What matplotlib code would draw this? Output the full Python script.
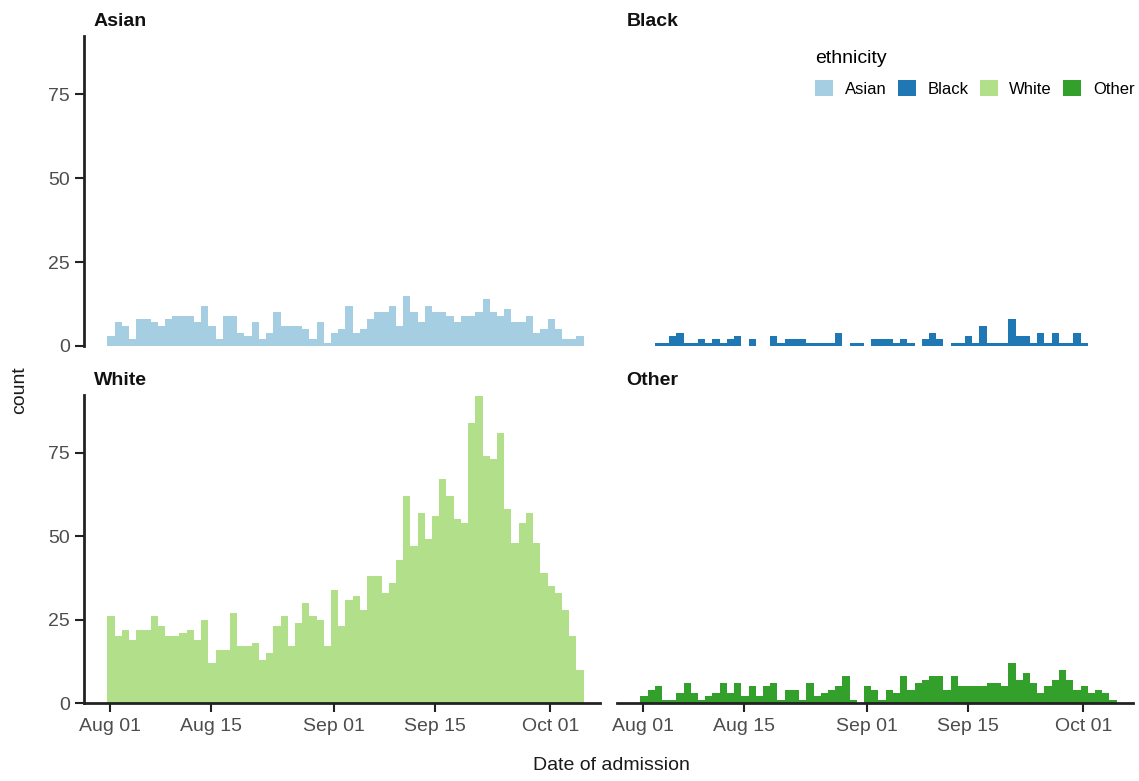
import matplotlib
matplotlib.use('Agg')
import matplotlib.pyplot as plt
import matplotlib.dates as mdates
from matplotlib.patches import Patch
import pandas as pd

plt.rcParams['font.family'] = ['Liberation Sans', 'DejaVu Sans']

# daily admissions by ethnicity, Aug 01 -> Oct 05
dates = pd.date_range('2020-08-01', periods=66, freq='D')

asian = [3, 7, 6, 2, 8, 8, 7, 6, 8, 9, 9, 9, 7, 12, 6, 2, 9, 9, 4, 3,
         7, 2, 4, 10, 6, 6, 6, 5, 2, 7, 1, 4, 5, 12, 4, 5, 8, 10, 10, 12,
         6, 15, 10, 7, 12, 10, 10, 9, 7, 9, 9, 10, 14, 10, 9, 11, 7, 7, 9, 4,
         5, 8, 5, 2, 2, 3]
black = [0, 0, 1, 1, 3, 4, 1, 1, 2, 1, 2, 1, 2, 3, 0, 2, 0, 0, 3, 1,
         2, 2, 2, 1, 1, 1, 1, 4, 0, 1, 1, 0, 2, 2, 2, 1, 2, 1, 0, 2,
         4, 2, 0, 1, 1, 3, 1, 6, 1, 1, 1, 8, 3, 3, 1, 4, 1, 4, 1, 1,
         4, 1, 0, 0, 0, 0]
white = [26, 20, 22, 19, 22, 22, 26, 23, 20, 20, 21, 22, 19, 25, 12, 16, 16, 27, 17, 17,
         18, 13, 15, 23, 26, 17, 24, 30, 26, 25, 17, 34, 23, 31, 32, 28, 38, 38, 33, 36,
         43, 62, 47, 57, 49, 56, 67, 62, 55, 54, 84, 92, 74, 73, 81, 58, 48, 54, 57, 48,
         39, 35, 33, 28, 20, 10]
other = [2, 4, 5, 1, 1, 3, 6, 3, 1, 2, 3, 6, 3, 6, 2, 5, 2, 5, 6, 1,
         4, 4, 1, 6, 2, 3, 4, 5, 8, 1, 0, 5, 4, 1, 4, 3, 8, 4, 6, 7,
         8, 8, 4, 8, 5, 5, 5, 5, 6, 6, 5, 12, 7, 9, 6, 3, 5, 7, 10, 7,
         4, 5, 3, 4, 3, 1]

groups = ['Asian', 'Black', 'White', 'Other']
colors = ['#a6cee3', '#1f78b4', '#b2df8a', '#33a02c']
series = [asian, black, white, other]

xticks = pd.to_datetime(['2020-08-01', '2020-08-15', '2020-09-01', '2020-09-15', '2020-10-01'])
yticks = [0, 25, 50, 75]

W, H = 1139, 781
fig = plt.figure(figsize=(W / 100, H / 100), dpi=100)

# panel boxes in pixels: left, top, right, bottom
boxes = [(84, 36, 600, 346), (617, 36, 1133, 346),
         (84, 395, 600, 703), (617, 395, 1133, 703)]

x0 = mdates.date2num(dates[0])
xl = mdates.date2num(dates) - 0.37
ink = '#222222'

for i in range(4):
    l, t, r, b = boxes[i]
    ax = fig.add_axes([l / W, 1 - b / H, (r - l) / W, (b - t) / H])
    ax.bar(xl, series[i], width=1.0, align='edge', color=colors[i], linewidth=0)
    ax.set_xlim(x0 - 3.6, x0 + 67.9)
    ax.set_ylim(0, 92.3)
    for s in ax.spines.values():
        s.set_visible(False)
        s.set_linewidth(2)
        s.set_color(ink)
    left = i % 2 == 0
    bottom = i >= 2
    ax.spines['left'].set_visible(left)
    ax.spines['bottom'].set_visible(bottom)
    ax.set_yticks(yticks)
    ax.set_xticks(mdates.date2num(xticks))
    ax.xaxis.set_major_formatter(mdates.DateFormatter('%b %d'))
    ax.tick_params(axis='y', left=left, labelleft=left, length=6.5, width=1.5,
                   color=ink, labelcolor='#4d4d4d', labelsize=14, pad=3.5)
    ax.tick_params(axis='x', bottom=bottom, labelbottom=bottom, length=6.5, width=1.5,
                   color=ink, labelcolor='#4d4d4d', labelsize=14, pad=4.5)
    ax.annotate(groups[i], xy=(0, 1), xycoords='axes fraction', xytext=(7, 7.5),
                textcoords='offset points', fontsize=14, fontweight='bold',
                ha='left', va='baseline', color='#111111')

fig.text(20 / W, 1 - 390 / H, 'count', rotation=90, fontsize=14,
         ha='center', va='center', color='#1a1a1a')
fig.text(611 / W, 1 - 766 / H, 'Date of admission', fontsize=14,
         ha='center', va='center', color='#1a1a1a')

handles = [Patch(facecolor=c, edgecolor='none') for c in colors]
fig.legend(handles, groups, title='ethnicity', loc='upper left', ncol=4,
           bbox_to_anchor=(815 / W, 1 - 50 / H), frameon=False, fontsize=12,
           title_fontsize=14, alignment='left', handlelength=1.08, handleheight=1.08,
           handletextpad=0.7, columnspacing=0.68, labelspacing=0.8,
           borderpad=0, borderaxespad=0)

plt.savefig('out.png', dpi=100)
